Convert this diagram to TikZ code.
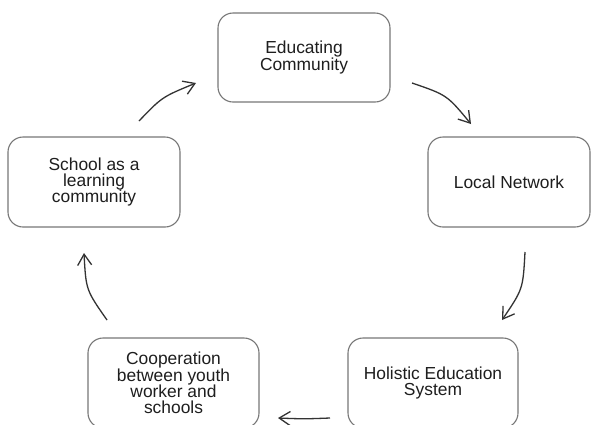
\documentclass[tikz,border=0pt]{standalone}
\usepackage{fontspec}
\setmainfont{Liberation Sans}
\usetikzlibrary{arrows.meta}
\definecolor{boxgray}{HTML}{777777}
\definecolor{arrowgray}{HTML}{333333}
\definecolor{txtgray}{HTML}{1E1E1E}
\begin{document}
\begin{tikzpicture}[x=1pt,y=-1pt,
  box/.style={draw=boxgray, line width=1.1pt, rounded corners=15pt,
    minimum height=90pt, align=center, inner sep=0pt, text=txtgray,
    font=\fontsize{17.4pt}{16.3pt}\selectfont},
  flow/.style={draw=arrowgray, line width=1.3pt,
    -{Straight Barb[length=11pt,width=14pt,line width=1.3pt]}}]
\clip (0,0) rectangle (592,424);
\fill[white] (0,0) rectangle (592,424);
% boxes
\node[box, minimum width=172pt, minimum height=89pt] (edu) at (304,57.5) {Educating\\Community};
\node[box, minimum width=162pt] (loc) at (509,182) {Local Network};
\node[box, minimum width=172pt] (sch) at (94,182) {School as a\\learning\\community};
\node[box, minimum width=171pt] (coop) at (173.5,383) {Cooperation\\between youth\\worker and\\schools};
\node[box, minimum width=170pt] (hol) at (433,383) {Holistic Education\\System};
% arrow end points
\coordinate (a1s) at (139,121);
\coordinate (a1e) at (196,83);
\coordinate (a2s) at (412,83);
\coordinate (a2e) at (471,124);
\coordinate (a3s) at (525,252);
\coordinate (a3e) at (502,320);
\coordinate (a4s) at (330,418);
\coordinate (a4e) at (278,418);
\coordinate (a5s) at (107,320);
\coordinate (a5e) at (84,253);
% arrows
\draw[flow] (a1s) .. controls (162,97) .. (a1e);
\draw[flow] (a2s) .. controls (447,95) .. (a2e);
\draw[flow] (a3s) .. controls (523,289) .. (a3e);
\draw[flow] (a4s) .. controls (304,419) .. (a4e);
\draw[flow] (a5s) .. controls (86,290) .. (a5e);
\end{tikzpicture}
\end{document}
